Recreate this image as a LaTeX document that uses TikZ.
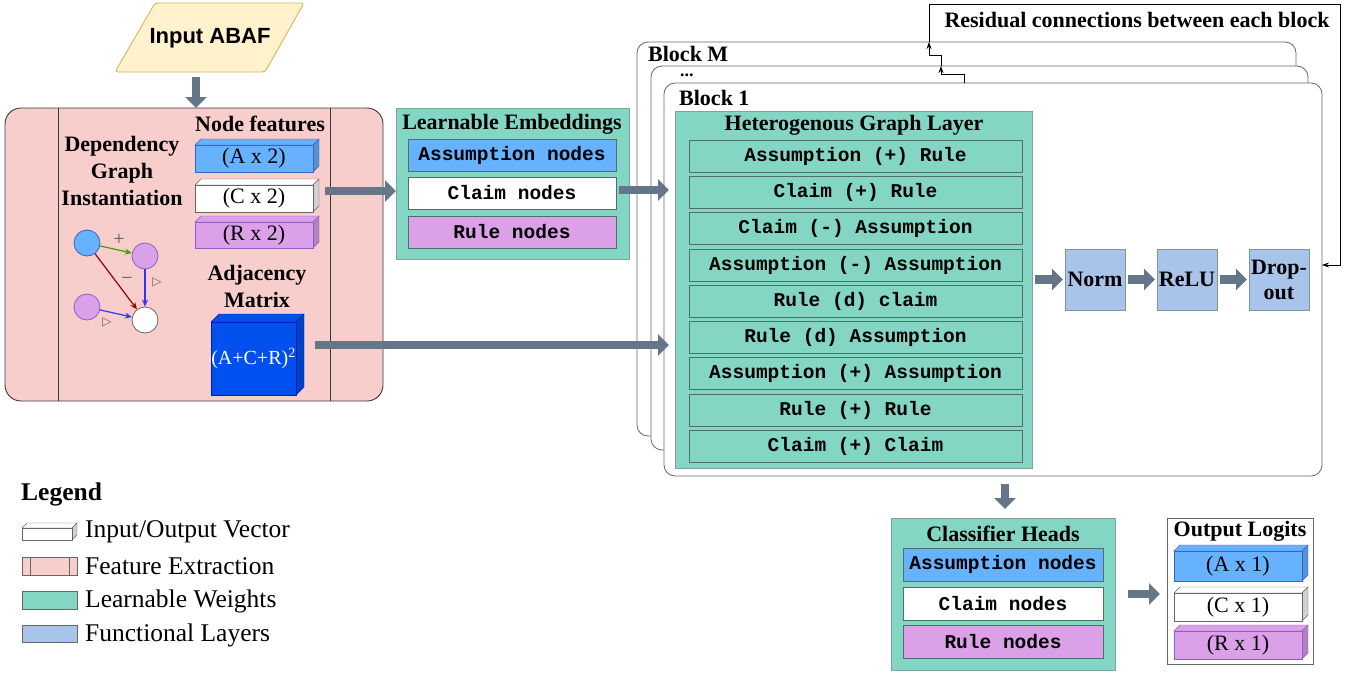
\documentclass[tikz,border=0pt]{standalone}
\usepackage{fontspec}
\setmainfont{Liberation Serif}
\setmonofont{Liberation Mono}
\newfontfamily\lsans{Liberation Sans}
\newfontfamily\dejavu{DejaVu Sans}
\usetikzlibrary{arrows.meta,calc}
\definecolor{tealw}{HTML}{83D6C4}
\definecolor{tealb}{HTML}{7FA39B}
\definecolor{rowb}{HTML}{4F6F68}
\definecolor{bluel}{HTML}{66B2FF}
\definecolor{blueb}{HTML}{3366CC}
\definecolor{purp}{HTML}{DCA0E9}
\definecolor{purpb}{HTML}{8A5FC8}
\definecolor{pinkf}{HTML}{F8CECC}
\definecolor{pinkb}{HTML}{3A3A3A}
\definecolor{yelf}{HTML}{FFF2CC}
\definecolor{yelb}{HTML}{D6B656}
\definecolor{arrowgray}{HTML}{647687}
\definecolor{funcf}{HTML}{A9C4EB}
\definecolor{funcb}{HTML}{7C9990}
\definecolor{adjf}{HTML}{0050EF}
\definecolor{adjb}{HTML}{001DBC}
\definecolor{grn}{HTML}{4D9900}
\definecolor{dred}{HTML}{990000}
\definecolor{eblue}{HTML}{3333FF}
\newcommand\fbig{\fontsize{22pt}{27pt}\selectfont}
\newcommand\fmono{\fontsize{19.5pt}{21pt}\selectfont\ttfamily\bfseries}
\newcommand\fleg{\fontsize{25.5pt}{28pt}\selectfont}
% cuboid: name, x1, y1, x2, y2, depth, fill, draw, text
\newcommand\cubebox[9]{%
  \pgfmathsetmacro\cbw{#4-#2-#6}\pgfmathsetmacro\cbh{#5-#3-#6}%
  \pgfmathsetmacro\cbx{(#2+#4-#6)/2}\pgfmathsetmacro\cby{(#3+#6+#5)/2}%
  \filldraw[draw=#8, fill=#7] ({#2},{#3+#6}) -- ({#2+#6},{#3}) -- ({#4},{#3}) -- ({#4-#6},{#3+#6}) -- cycle;
  \filldraw[draw=#8, fill=#7!82!black] ({#4-#6},{#3+#6}) -- ({#4},{#3}) -- ({#4},{#5-#6}) -- ({#4-#6},{#5}) -- cycle;
  \node[draw=#8, fill=#7, minimum width=\cbw pt, minimum height=\cbh pt, inner sep=0pt, outer sep=0pt] (#1) at (\cbx,\cby) {#9};
}
\tikzset{
  barrow/.style={draw=arrowgray, line width=8.5pt, -{Triangle[width=21pt,length=11pt]}},
  resid/.style={draw=black, line width=0.8pt},
  residarrow/.style={resid, -{Stealth[length=7pt,width=5pt]}},
  tealbox/.style={draw=tealb, fill=tealw, line width=0.9pt, inner sep=0pt, outer sep=0pt},
  rowbox/.style={draw=rowb, fill=tealw, line width=0.8pt, inner sep=0pt, outer sep=0pt, font=\fmono},
  flatbox/.style={draw=rowb, line width=0.8pt, inner sep=0pt, outer sep=0pt, font=\fmono},
  blockbox/.style={draw=black!60, fill=white, rounded corners=11pt, line width=0.8pt, inner sep=0pt, outer sep=0pt},
  funcbox/.style={draw=funcb, fill=funcf, line width=0.8pt, minimum width=60, minimum height=61, inner sep=0pt, outer sep=0pt, font=\fbig\bfseries, align=center},
  gcirc/.style={circle, minimum size=26, inner sep=0pt, line width=0.8pt},
  garrow/.style={line width=1.2pt, -{Stealth[length=7pt,width=6pt]}},
  title/.style={font=\fbig\bfseries, inner sep=0pt},
  legtext/.style={font=\fleg, anchor=west, inner sep=0pt},
}
\begin{document}
\begin{tikzpicture}[x=1pt,y=-1pt]
\useasboundingbox (0,0) rectangle (1354,672);

% ---------- Input ABAF ----------
\filldraw[draw=yelb, fill=yelf, line width=0.9pt, rounded corners=3pt] (115,72) -- (155,3) -- (304,3) -- (265,72) -- cycle;
\node[font=\fontsize{22pt}{24pt}\selectfont\lsans\bfseries, inner sep=0pt] (input) at (210,38) {Input ABAF};

% ---------- Feature extraction ----------
\node[draw=pinkb, fill=pinkf, rounded corners=16pt, line width=0.9pt, minimum width=378, minimum height=293, inner sep=0pt, outer sep=0pt] (pink) at (194,254.5) {};
\draw[pinkb, line width=0.9pt] (pink.north -| 58,0) -- (pink.south -| 58,0);
\draw[pinkb, line width=0.9pt] (pink.north -| 330,0) -- (pink.south -| 330,0);
\coordinate (inbot) at (196,77);
\draw[barrow] (inbot) -- (inbot |- pink.north);

\node[title, align=center] (dgi) at (122,171) {Dependency\\Graph\\Instantiation};
\node[title] (nf) at (260,124) {Node features};
\cubebox{avec}{195}{139}{319}{172}{6}{bluel}{blueb}{\fbig (A x 2)}
\cubebox{cvec}{195}{179}{319}{212}{6}{white}{black!60}{\fbig (C x 2)}
\cubebox{rvec}{195}{216}{319}{248}{6}{purp}{purpb}{\fbig (R x 2)}
\node[title, align=center] (adjt) at (257,286) {Adjacency\\Matrix};
\cubebox{adj}{211}{314}{304}{395}{8}{adjf}{adjb}{\color{white}\fontsize{20pt}{22pt}\selectfont (A+C+R)\textsuperscript{2}}

% small graph
\node[gcirc, draw=blueb, fill=bluel] (g1) at (87,243) {};
\node[gcirc, draw=purpb, fill=purp] (g2) at (145,256) {};
\node[gcirc, draw=purpb, fill=purp] (g3) at (87,307) {};
\node[gcirc, draw=black!60, fill=white] (g4) at (145,320) {};
\draw[garrow, grn] (g1) -- (g2);
\draw[garrow, dred] (g1) -- (g4);
\draw[garrow, eblue] (g2) -- (g4);
\draw[garrow, eblue] (g3) -- (g4);
\node[font=\fontsize{20pt}{22pt}\selectfont, text=black!65, inner sep=0pt] (lp) at (119,240) {+};
\node[font=\fontsize{20pt}{22pt}\selectfont, text=black!65, inner sep=0pt] (lm) at (127,281) {−};
\node[font=\fontsize{12pt}{14pt}\selectfont\dejavu, text=black!60, inner sep=0pt] (ld1) at (157,282) {▷};
\node[font=\fontsize{12pt}{14pt}\selectfont\dejavu, text=black!60, inner sep=0pt] (ld2) at (107,322) {▷};

% ---------- Learnable embeddings ----------
\node[tealbox, minimum width=233, minimum height=151] (emb) at (512.5,183.5) {};
\node[title] (embt) at (512,124) {Learnable Embeddings};
\node[flatbox, fill=bluel, minimum width=208, minimum height=32] (ea) at (512,155) {Assumption nodes};
\node[flatbox, fill=white, minimum width=208, minimum height=32] (ec) at (512,193) {Claim nodes};
\node[flatbox, fill=purp, minimum width=208, minimum height=32] (er) at (512,232) {Rule nodes};
\coordinate (a1) at (325,191);
\draw[barrow] (a1) -- (a1 -| emb.west);

% ---------- Blocks ----------
\node[blockbox, minimum width=659, minimum height=394] (blkM) at (966.5,239) {};
\node[blockbox, minimum width=657, minimum height=384] (blkD) at (979.5,258) {};
\node[blockbox, minimum width=658, minimum height=393] (blk1) at (993,279.5) {};
\node[title, anchor=west] (lblM) at (648,54) {Block M};
\node[font=\fontsize{18pt}{20pt}\selectfont\bfseries, inner sep=0pt, text height=3pt, text depth=0pt, anchor=south west] (lblD) at (680,77) {...};
\node[title, anchor=west] (lbl1) at (679,98) {Block 1};

\coordinate (a2) at (619,190);
\draw[barrow] (a2) -- ($(a2 -| blk1.west)+(5,0)$);
\coordinate (a3) at (315,345);
\draw[barrow] (a3) -- ($(a3 -| blk1.west)+(5,0)$);

% residual connections
\coordinate (rx) at (929,0);
\coordinate (s1) at (964,0);
\coordinate (s2) at (941,0);
\coordinate (rtop) at (1340,4);
\coordinate (ry) at (0,265);
\draw[residarrow] (blk1.north -| s1) -- ++(0,-9) -| (blkD.north -| s2);
\draw[residarrow] (blkD.north -| s2) -- ++(0,-11) -| (blkM.north -| rx);
\draw[residarrow] (blkM.north -| rx) |- (rtop) |- (blk1.east |- ry);
\node[title] (rtext) at (1137,20) {Residual connections between each block};

% heterogenous graph layer
\node[tealbox, minimum width=357, minimum height=357] (het) at (853.5,289.5) {};
\node[title] (hett) at (854,125) {Heterogenous Graph Layer};
\node[rowbox, minimum width=333, minimum height=32] (h1) at (855.5,156) {Assumption (+) Rule};
\node[rowbox, minimum width=333, minimum height=32] (h2) at (855.5,192) {Claim (+) Rule};
\node[rowbox, minimum width=333, minimum height=32] (h3) at (855.5,228.5) {Claim (-) Assumption};
\node[rowbox, minimum width=333, minimum height=32] (h4) at (855.5,265) {Assumption (-) Assumption};
\node[rowbox, minimum width=333, minimum height=32] (h5) at (855.5,301) {Rule (d) claim};
\node[rowbox, minimum width=333, minimum height=32] (h6) at (855.5,337.5) {Rule (d) Assumption};
\node[rowbox, minimum width=333, minimum height=32] (h7) at (855.5,373.5) {Assumption (+) Assumption};
\node[rowbox, minimum width=333, minimum height=32] (h8) at (855.5,410) {Rule (+) Rule};
\node[rowbox, minimum width=333, minimum height=32] (h9) at (855.5,446) {Claim (+) Claim};

% functional layers
\node[funcbox] (norm) at (1095,279.5) {Norm};
\node[funcbox] (relu) at (1187,279.5) {ReLU};
\node[funcbox, font=\fontsize{22pt}{25pt}\selectfont\bfseries] (drop) at (1279,279.5) {Drop-\\out};
\draw[barrow] ($(het.east |- norm.west)+(3,0)$) -- ($(norm.west)+(-2,0)$);
\draw[barrow] ($(norm.east)+(3,0)$) -- ($(relu.west)+(-2,0)$);
\draw[barrow] ($(relu.east)+(3,0)$) -- ($(drop.west)+(-2,0)$);

% ---------- Classifier heads ----------
\node[tealbox, minimum width=224, minimum height=152] (cls) at (1003,594) {};
\node[title] (clst) at (1003,534) {Classifier Heads};
\node[flatbox, fill=bluel, minimum width=200, minimum height=33] (ca) at (1003,564.5) {Assumption nodes};
\node[flatbox, fill=white, minimum width=200, minimum height=33] (cc) at (1003,603.5) {Claim nodes};
\node[flatbox, fill=purp, minimum width=200, minimum height=33] (cr) at (1003,642) {Rule nodes};
\coordinate (ax) at (1005,0);
\draw[barrow] ($(blk1.south -| ax)+(0,8)$) -- ($(cls.north -| ax)+(0,-9)$);

% ---------- Output logits ----------
\node[draw=black!60, fill=white, line width=0.8pt, minimum width=146, minimum height=146, inner sep=0pt, outer sep=0pt] (outb) at (1240,591) {};
\node[title] (outt) at (1240,531) {Output Logits};
\cubebox{oa}{1174}{545}{1308}{581}{6}{bluel}{blueb}{\fbig (A x 1)}
\cubebox{oc}{1174}{587}{1308}{621}{6}{white}{black!60}{\fbig (C x 1)}
\cubebox{or}{1174}{625}{1308}{659}{6}{purp}{purpb}{\fbig (R x 1)}
\coordinate (a4) at (1128,594);
\draw[barrow] (a4) -- ($(a4 -| outb.west)+(-7,0)$);

% ---------- Legend ----------
\node[font=\fontsize{25.5pt}{28pt}\selectfont\bfseries, anchor=west, inner sep=0pt] (legt) at (21,494) {Legend};
\cubebox{lg1}{22}{523}{77}{540}{5}{white}{black!60}{}
\node[draw=black!60, fill=pinkf, line width=0.8pt, minimum width=55, minimum height=18, inner sep=0pt, outer sep=0pt] (lg2) at (49.5,566) {};
\draw[black!60, line width=0.8pt] (lg2.north -| 30,0) -- (lg2.south -| 30,0);
\draw[black!60, line width=0.8pt] (lg2.north -| 69,0) -- (lg2.south -| 69,0);
\node[draw=black!60, fill=tealw, line width=0.8pt, minimum width=55, minimum height=18, inner sep=0pt, outer sep=0pt] (lg3) at (49.5,600) {};
\node[draw=black!60, fill=funcf, line width=0.8pt, minimum width=55, minimum height=17, inner sep=0pt, outer sep=0pt] (lg4) at (49.5,634) {};
\node[legtext] (lt1) at (85,532) {Input/Output Vector};
\node[legtext] (lt2) at (85,566) {Feature Extraction};
\node[legtext] (lt3) at (85,601) {Learnable Weights};
\node[legtext] (lt4) at (85,635) {Functional Layers};
\end{tikzpicture}
\end{document}
